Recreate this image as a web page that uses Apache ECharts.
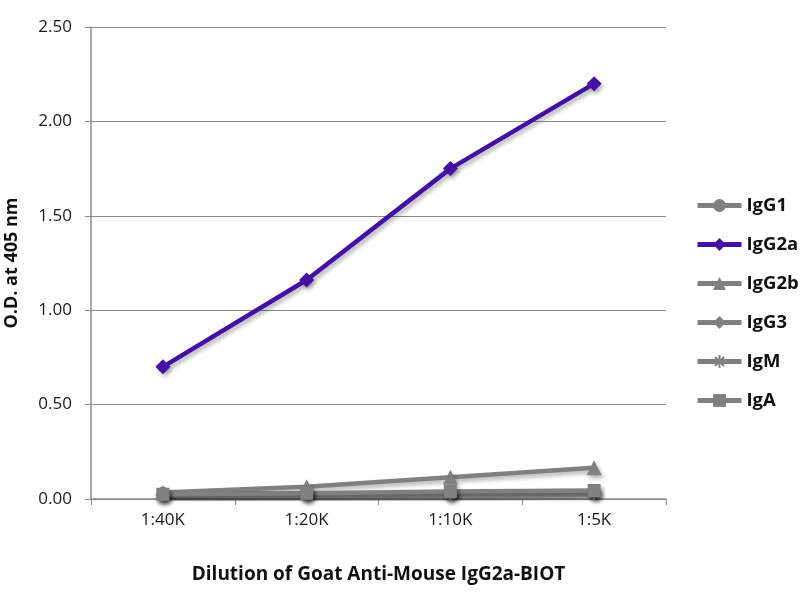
<!DOCTYPE html>
<html><head><meta charset="utf-8">
<script src="https://cdn.jsdelivr.net/npm/echarts@6/dist/echarts.min.js"></script>
<style>html,body{margin:0;padding:0;background:#fff}#c{width:800px;height:600px}</style>
</head><body><div id="c"></div>
<script>
const categories = ['1:40K', '1:20K', '1:10K', '1:5K'];
const IgG1 = [0.03, 0.03, 0.03, 0.04];
const IgG2a = [0.70, 1.16, 1.75, 2.20];
const IgG2b = [0.035, 0.065, 0.115, 0.165];
const IgG3 = [0.02, 0.025, 0.03, 0.035];
const IgM = [0.02, 0.02, 0.025, 0.03];
const IgA = [0.025, 0.03, 0.04, 0.045];
const yTicks = [0, 0.5, 1.0, 1.5, 2.0, 2.5];

const gray = '#808080';
const purple = '#4410a4';
const starPath = 'path://M5,0 L5,10 M0,5 L10,5 M1.5,1.5 L8.5,8.5 M8.5,1.5 L1.5,8.5';
const font = '"Open Sans", "Noto Sans", sans-serif';

function mk(name, data, symbol, color, size, z) {
  return {
    name, type: 'line', data, symbol, symbolSize: size, z,
    lineStyle: { color, width: 4.5, shadowColor: 'rgba(0,0,0,0.3)', shadowBlur: 4, shadowOffsetX: 2, shadowOffsetY: 3 },
    itemStyle: { color, borderColor: color, borderWidth: symbol === starPath ? 1.5 : 0, shadowColor: 'rgba(0,0,0,0.3)', shadowBlur: 4, shadowOffsetX: 2, shadowOffsetY: 3 },
    emphasis: { disabled: true },
    animation: false
  };
}

const chart = echarts.init(document.getElementById('c'), null, { renderer: 'canvas' });
chart.setOption({
  animation: false,
  grid: { left: 91, right: 134, top: 27, bottom: 101, containLabel: false, outerBoundsMode: 'none' },
  legend: {
    orient: 'vertical', left: 690, top: 191, itemGap: 20, itemWidth: 44, itemHeight: 16,
    lineStyle: { width: 5, shadowBlur: 0, shadowOffsetX: 0, shadowOffsetY: 0 },
    itemStyle: { shadowBlur: 0, shadowOffsetX: 0, shadowOffsetY: 0 },
    textStyle: { fontFamily: font, fontSize: 18.5, fontWeight: 'bold', color: '#111' },
    data: ['IgG1', 'IgG2a', 'IgG2b', 'IgG3', 'IgM', 'IgA']
  },
  xAxis: {
    type: 'category', data: categories, boundaryGap: true,
    name: 'Dilution of Goat Anti-Mouse IgG2a-BIOT', nameLocation: 'middle', nameGap: 66,
    nameTextStyle: { fontFamily: font, fontSize: 19, fontWeight: 'bold', color: '#111' },
    axisLine: { lineStyle: { color: '#8c8c8c', width: 1.5 } },
    axisTick: { show: true, inside: false, length: 6, lineStyle: { color: '#8c8c8c' } },
    axisLabel: { fontFamily: font, fontSize: 17, color: '#1a1a1a', margin: 13 }
  },
  yAxis: {
    type: 'value', min: 0, max: 2.5, interval: 0.5,
    name: 'O.D. at 405 nm', nameLocation: 'middle', nameGap: 70, nameRotate: 90,
    nameTextStyle: { fontFamily: font, fontSize: 18, fontWeight: 'bold', color: '#111' },
    axisLine: { show: true, lineStyle: { color: '#8c8c8c', width: 1.5 } },
    axisTick: { show: true, length: 6, lineStyle: { color: '#8c8c8c' } },
    splitLine: { lineStyle: { color: '#8c8c8c', width: 1 } },
    axisLabel: { fontFamily: font, fontSize: 17, color: '#1a1a1a', margin: 19,
      formatter: v => { const t = yTicks.find(x => Math.abs(x - v) < 1e-9); return (t !== undefined ? t : v).toFixed(2); } }
  },
  series: [
    mk('IgG1', IgG1, 'circle', gray, 13, 2),
    mk('IgG2b', IgG2b, 'triangle', gray, 15, 2),
    mk('IgG3', IgG3, 'diamond', gray, 15, 2),
    mk('IgM', IgM, starPath, gray, 13, 2),
    mk('IgA', IgA, 'rect', gray, 13, 2),
    mk('IgG2a', IgG2a, 'diamond', purple, 15, 5)
  ]
});
</script></body></html>
